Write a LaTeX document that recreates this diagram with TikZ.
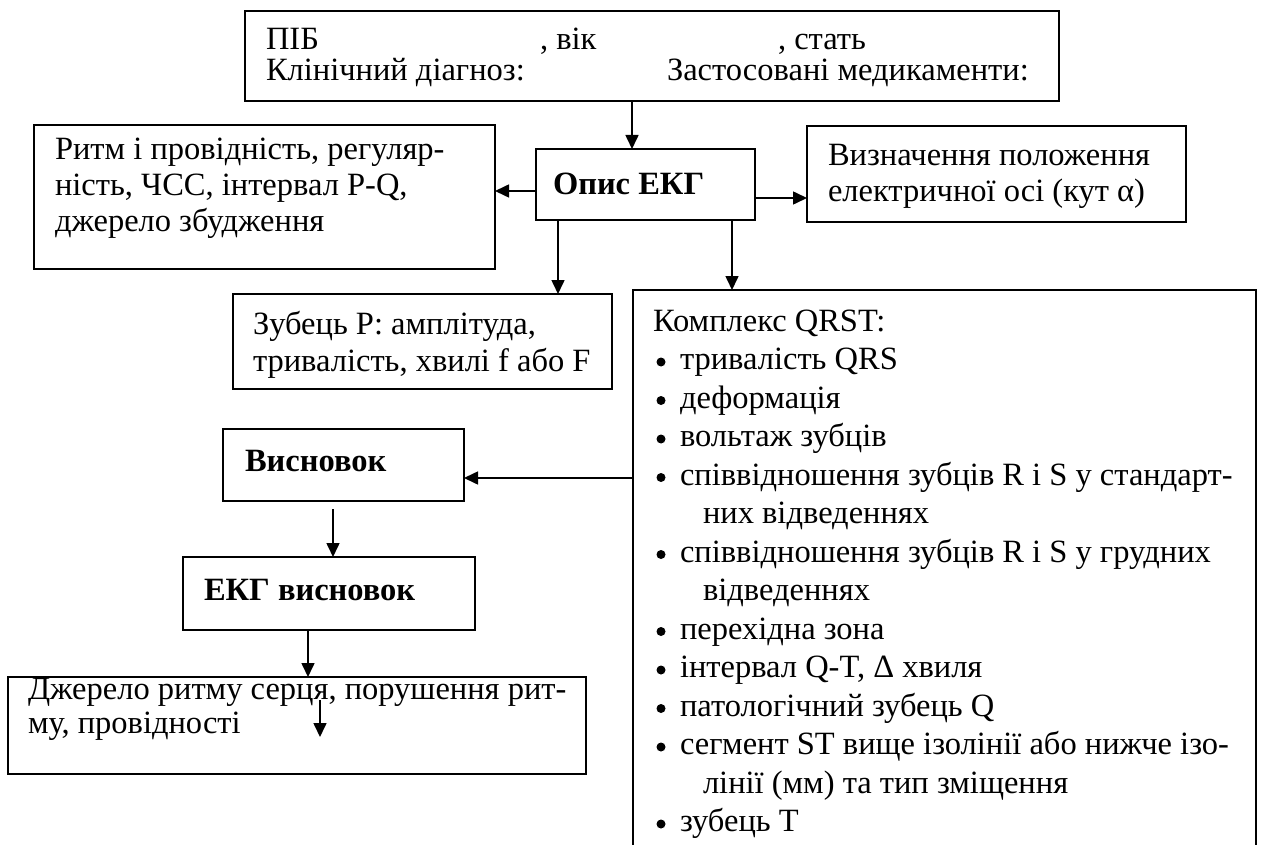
\documentclass[tikz,border=0pt]{standalone}
\usepackage{fontspec}
\setmainfont{Liberation Serif}
\usetikzlibrary{arrows.meta}
\begin{document}
\begin{tikzpicture}[x=1pt,y=-1pt,
  box/.style={draw, line width=1.6pt, rectangle, anchor=north west, inner sep=0pt, outer sep=0pt},
  txt/.style={anchor=base west, inner sep=0pt, outer sep=0pt, font=\fontsize{32.5}{38}\selectfont},
  btxt/.style={txt, font=\fontsize{32.5}{38}\selectfont\bfseries},
  arr/.style={line width=1.6pt, -{Triangle[length=14pt,width=13pt]}}]
\fill[white] (0,0) rectangle (1261,845);
\useasboundingbox (0,0) rectangle (1261,845);

% boxes
\node[box, minimum width=814, minimum height=90] (top) at (245,11) {};
\node[box, minimum width=461, minimum height=144] (left) at (34,125) {};
\node[box, minimum width=219, minimum height=71] (opys) at (536,149) {};
\node[box, minimum width=379, minimum height=96] (vyzn) at (807,126) {};
\node[box, minimum width=379, minimum height=95] (zub) at (233,294) {};
\node[box, draw=none, minimum width=623, minimum height=555] (qrst) at (633,290) {};
\draw[line width=1.6pt] (qrst.south west) |- (qrst.north east) -- (qrst.south east);
\node[box, minimum width=241, minimum height=72] (vys) at (223,429) {};
\node[box, minimum width=292, minimum height=73] (ekg) at (183,557) {};
\node[box, minimum width=578, minimum height=97] (bot) at (8,677) {};

% header
\node[txt] (t1) at (266,50) {ПІБ};
\node[txt] (t2) at (540,50) {, вік};
\node[txt] (t3) at (778,50) {, стать};
\node[txt] (t4) at (266,81) {Клінічний діагноз:};
\node[txt] (t5) at (667,81) {Застосовані медикаменти:};

% left block
\node[txt] (l1) at (55,160) {Ритм і провідність, регуляр-};
\node[txt] (l2) at (55,196) {ність, ЧСС, інтервал P-Q,};
\node[txt] (l3) at (55,232) {джерело збудження};

\node[btxt] (o1) at (553,195) {Опис ЕКГ};

\node[txt] (v1) at (828,166) {Визначення положення};
\node[txt] (v2) at (828,202) {електричної осі (кут α)};

\node[txt] (z1) at (253,334) {Зубець P: амплітуда,};
\node[txt] (z2) at (253,371) {тривалість, хвилі f або F};

% QRST list
\node[txt] (q0) at (653,331) {Комплекс QRST:};
\node[txt] (q1) at (680,369.5) {тривалість QRS};
\node[txt] (q2) at (680,408) {деформація};
\node[txt] (q3) at (680,446.5) {вольтаж зубців};
\node[txt] (q4) at (680,485) {співвідношення зубців R і S у стандарт-};
\node[txt] (q5) at (703,523.5) {них відведеннях};
\node[txt] (q6) at (680,562) {співвідношення зубців R і S у грудних};
\node[txt] (q7) at (703,600.5) {відведеннях};
\node[txt] (q8) at (680,639) {перехідна зона};
\node[txt] (q9) at (680,677.5) {інтервал Q-T, Δ хвиля};
\node[txt] (q10) at (680,716) {патологічний зубець Q};
\node[txt] (q11) at (680,754.5) {сегмент ST вище ізолінії або нижче ізо-};
\node[txt] (q12) at (703,793) {лінії (мм) та тип зміщення};
\node[txt] (q13) at (680,831.5) {зубець T};
% list bullets
\foreach \n in {q1,q2,q3,q4,q6,q8,q9,q10,q11,q13}
  \fill ([xshift=-19pt,yshift=7.5pt]\n.base west) circle (4.5pt);

\node[btxt] (s1) at (245,471) {Висновок};
\node[btxt] (e1) at (204,600) {ЕКГ висновок};

\node[txt] (b1) at (28,699) {Джерело ритму серця, порушення рит-};
\node[txt] (b2) at (28,733) {му, провідності};

% connectors
\draw[arr] ([xshift=387pt]top.south west) coordinate (c1) -- (c1 |- opys.north);
\draw[arr] ([yshift=-42pt]opys.north west) coordinate (c2) -- (c2 -| left.east);
\draw[arr] ([yshift=-49pt]opys.north east) coordinate (c3) -- (c3 -| vyzn.west);
\draw[arr] ([xshift=22pt]opys.south west) coordinate (c4) -- (c4 |- zub.north);
\draw[arr] ([xshift=196pt]opys.south west) coordinate (c5) -- (c5 |- qrst.north);
\draw[arr] ([yshift=-188pt]qrst.north west) coordinate (c6) -- (c6 -| vys.east);
\draw[arr] ([xshift=110pt,yshift=-8pt]vys.south west) coordinate (c7) -- (c7 |- ekg.north);
\draw[arr] ([xshift=125pt]ekg.south west) coordinate (c8) -- (c8 |- bot.north);
\coordinate (m1) at (320,700);
\coordinate (m2) at (320,737);
\draw[arr] (m1) -- (m2);
\end{tikzpicture}
\end{document}
